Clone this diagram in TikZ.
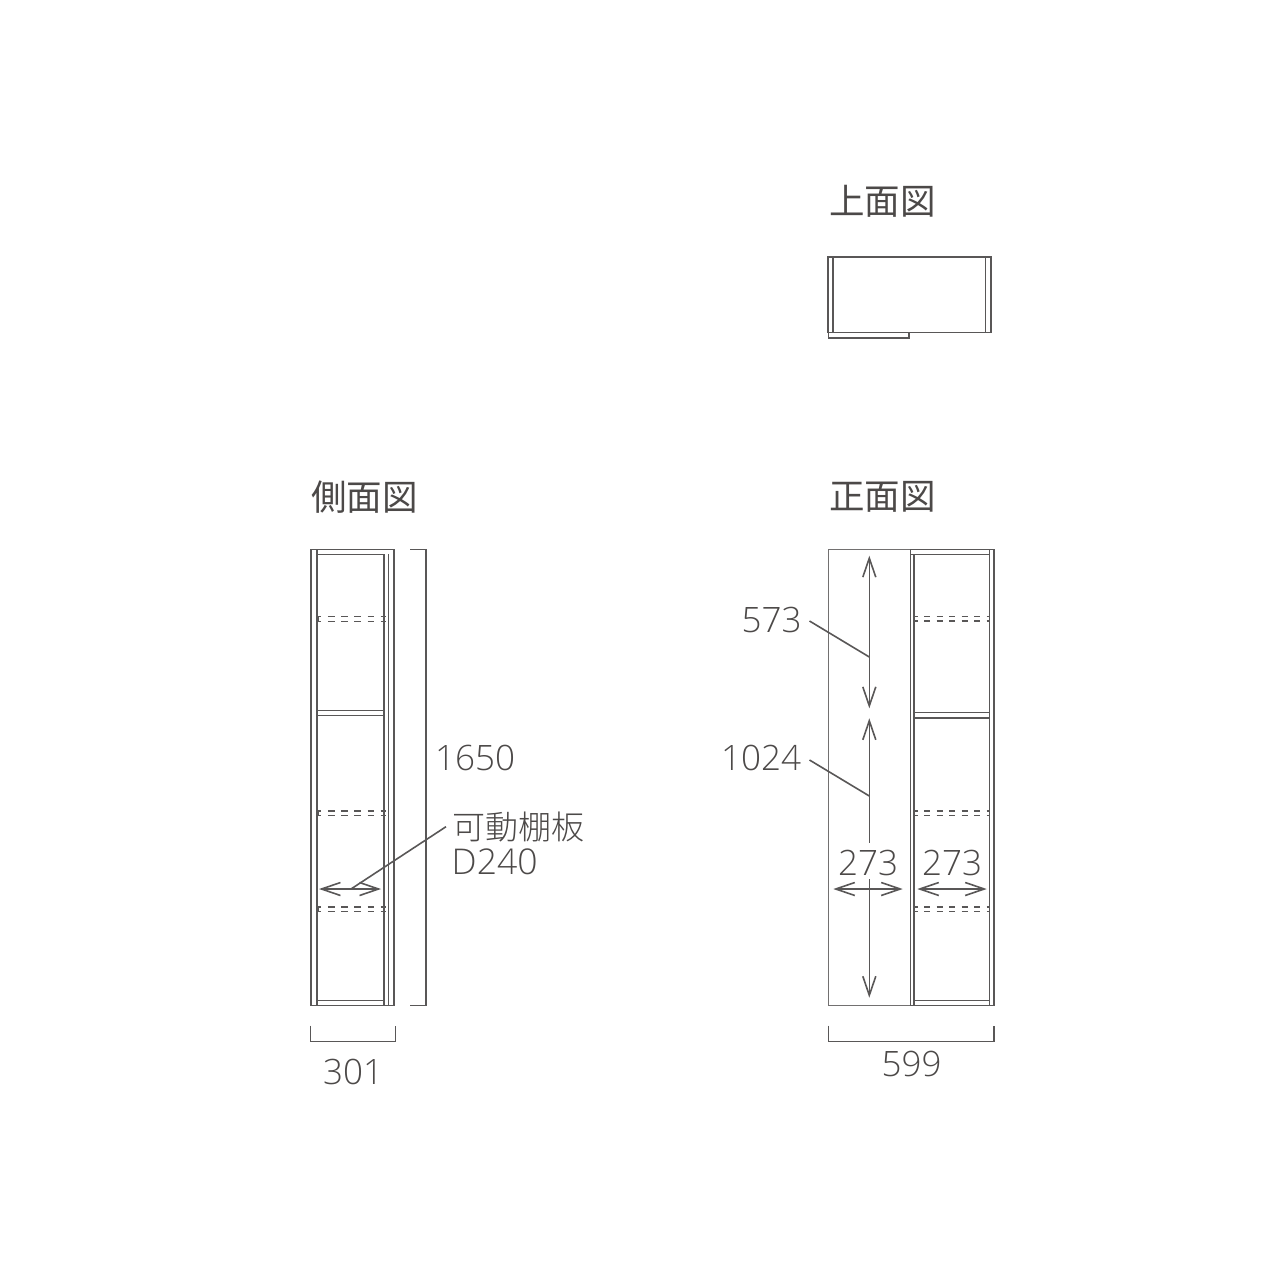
\documentclass[tikz,border=0pt]{standalone}
\usepackage{fontspec}
\usetikzlibrary{arrows.meta}
\newfontfamily\jpfont[UprightFont=* Light]{Noto Sans CJK JP}
\newfontfamily\jpreg{Noto Sans CJK JP}
\newfontfamily\numfont[UprightFont=* Light]{Open Sans}
\definecolor{ink}{HTML}{595757}
\definecolor{textink}{HTML}{4C4948}
\tikzset{
  x=1pt,y=-1pt,
  part/.style={draw=ink,line width=1.6pt},
  thinpart/.style={draw=ink,line width=1.4pt},
  hid/.style={draw=ink,line width=1.4pt,dash pattern=on 6.6pt off 6.6pt,dash phase=3.3pt},
  hidf/.style={draw=ink,line width=1.4pt,dash pattern=on 6.3pt off 6.2pt,dash phase=3pt},
  dim/.style={draw=ink,line width=1.6pt},
  dimarrow/.style={draw=ink,line width=1.6pt,{Straight Barb[length=19pt,width=13pt,line width=1.6pt]}-{Straight Barb[length=19pt,width=13pt,line width=1.6pt]}},
  endarrow/.style={draw=ink,line width=1.6pt,-{Straight Barb[length=19pt,width=13pt,line width=1.6pt]}},
  startarrow/.style={draw=ink,line width=1.6pt,{Straight Barb[length=19pt,width=13pt,line width=1.6pt]}-},
  title/.style={text=textink,font=\jpreg\fontsize{35.5}{36}\selectfont,inner sep=0pt,anchor=west},
  num/.style={text=textink,font=\numfont\fontsize{35}{35}\selectfont,inner sep=0pt},
  note/.style={text=textink,font=\jpfont\fontsize{33}{33}\selectfont,inner sep=0pt,anchor=west},
  notenum/.style={text=textink,font=\numfont\fontsize{35.5}{35.5}\selectfont,inner sep=0pt,anchor=west},
}
\begin{document}
\begin{tikzpicture}
\useasboundingbox (0,0) rectangle (1280,1280);
% titles
\node[title] (t1) at (829,201) {上面図};
\node[title] (t2) at (311,497) {側面図};
\node[title] (t3) at (829,497) {正面図};
% top view
\draw[part] (828,257) rectangle (990.7,332.5);
\draw[thinpart] (832.8,257) -- (832.8,332.5);
\draw[thinpart] (985.7,257) -- (985.7,332.5);
\draw[thinpart] (828.5,332.5) -- (828.5,338) -- (909,338) -- (909,332.5);
% side view
\draw[part] (311,549.5) rectangle (316.7,1005.3);
\draw[part] (316.7,549.5) rectangle (393.7,1005.3);
\draw[thinpart] (316.7,554.4) -- (384,554.4);
\draw[part] (384,554.4) -- (384,1005.3);
\draw[thinpart] (388.5,554.4) -- (388.5,1005.3);
\draw[thinpart] (316.7,710.7) -- (384,710.7);
\draw[part] (316.7,715.3) -- (384,715.3);
\draw[thinpart] (316.7,1000.3) -- (384,1000.3);
\foreach \y in {616.7,621.7,811,815.5,907,911.7}{
  \draw[hid] (318,\y) -- (385.5,\y);
}
\foreach \y in {616.7,811,907}{
  \draw[thinpart] (318.7,\y) -- (318.7,\y+5);
}
% side dims
\draw[dim] (410,549.5) -- (426,549.5) -- (426,1005.5) -- (410,1005.5);
\draw[dim] (310.3,1025.5) -- (310.3,1041.5) -- (395.5,1041.5) -- (395.5,1025.5);
\coordinate (sa) at (319,889);
\coordinate (sb) at (381,889);
\coordinate (sm) at (351,889);
\coordinate (sl) at (446,826.7);
\draw[dimarrow] (sa) -- (sb);
\draw[dim] (sm) -- (sl);
% front view
\draw[part,draw=ink!85] (828.3,549.5) rectangle (910.3,1005.5);
\draw[part] (910.3,549.5) rectangle (994,1005.3);
\draw[part] (914,554.5) -- (914,1005.3);
\draw[part] (989.3,549.5) -- (989.3,1005.3);
\draw[thinpart] (910.3,554.5) -- (989.3,554.5);
\draw[thinpart] (914,712.7) -- (989.3,712.7);
\draw[part] (914,717.7) -- (989.3,717.7);
\draw[thinpart] (914,1000.7) -- (989.3,1000.7);
\foreach \y in {616.3,621,811,815.3,907,911.5}{
  \draw[hidf] (914.5,\y) -- (989,\y);
}
% front dims
\draw[dimarrow] (869.3,555.7) -- (869.3,708.3);
\draw[startarrow] (869.3,718.3) -- (869.3,843);
\draw[endarrow] (869.3,879) -- (869.3,997.7);
\draw[dim] (809.5,621) -- (869.3,657);
\draw[dim] (809.5,760) -- (869.3,796);
\draw[dimarrow] (833.3,889) -- (902.7,889);
\draw[dimarrow] (917.3,889) -- (986.7,889);
\draw[dim] (828.3,1025.5) -- (828.3,1041.5) -- (993.7,1041.5) -- (993.7,1025.5);
% labels
\node[num] (n1650) at (475,758) {1650};
\node[num] (n301) at (353,1072) {301};
\node[num] (n573) at (771.5,620) {573};
\node[num] (n1024) at (761,758) {1024};
\node[num] (n273a) at (868,863) {273};
\node[num] (n273b) at (952,863) {273};
\node[num] (n599) at (911.5,1064) {599};
\node[note] (n1) at (452,827) {可動棚板};
\node[notenum] (n2) at (451.5,862) {D240};
\end{tikzpicture}
\end{document}
